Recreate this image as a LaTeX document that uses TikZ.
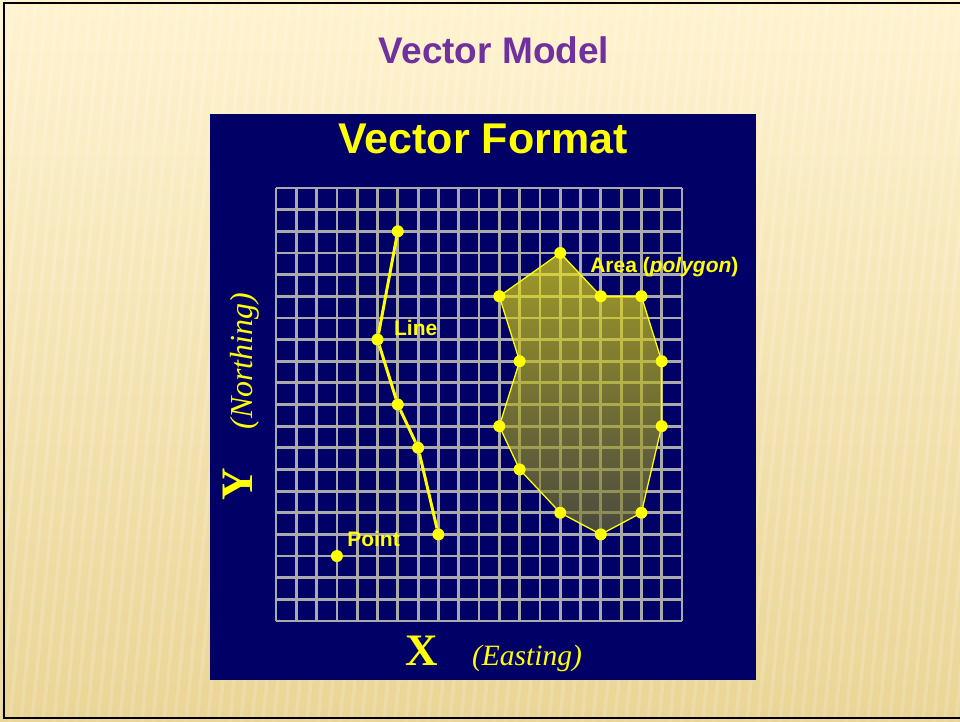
\documentclass[tikz,border=0pt]{standalone}
\usepackage{fontspec}
\setmainfont{Liberation Serif}
\setsansfont{Liberation Sans}
\definecolor{slidenavy}{RGB}{0,0,102}
\definecolor{slideyellow}{RGB}{255,255,0}
\definecolor{titlepurple}{RGB}{112,48,160}
\definecolor{gridgray}{RGB}{170,170,170}
\definecolor{creamtop}{RGB}{255,243,208}
\definecolor{creambot}{RGB}{234,213,150}
\definecolor{areatop}{RGB}{246,237,7}
\definecolor{areabot}{RGB}{114,114,44}
\usetikzlibrary{positioning}

\begin{document}
\begin{tikzpicture}[x=1pt,y=-1pt,
        lbl/.style={text=slideyellow,font=\sffamily\bfseries\fontsize{21}{24}\selectfont,
                    inner sep=0pt,anchor=base west},
        axisbig/.style={text=slideyellow,font=\rmfamily\bfseries\fontsize{45}{50}\selectfont,
                        inner sep=0pt,anchor=base},
        axissmall/.style={text=slideyellow,font=\rmfamily\itshape\fontsize{30}{34}\selectfont,
                          inner sep=0pt,anchor=base},
        dot/.style={circle,fill=slideyellow,inner sep=0pt,minimum size=12pt}]
        \useasboundingbox (0,0) rectangle (960,721);
        % slide background
        \shade[top color=creamtop,bottom color=creambot] (0,0) rectangle (960,721);
        \foreach \i in {-100,-89,...,1000}
          \draw[white,opacity=0.16,line width=3.5pt] (\i,721) -- (\i+70,0);
        \draw[black,line width=2.5pt] (4,3) rectangle (966,718);
        \node[text=titlepurple,font=\sffamily\bfseries\fontsize{37}{40}\selectfont,
              inner sep=0pt,anchor=base] (title) at (494,63) {Vector Model};
        % panel
        \fill[slidenavy] (210,114) rectangle (756,680);
        \node[text=slideyellow,font=\sffamily\bfseries\fontsize{43}{46}\selectfont,
              inner sep=0pt,anchor=base] (fmt) at (483,153) {Vector Format};
        \node[axisbig] (xl) at (422,665) {X};
        \node[axissmall,font=\rmfamily\itshape\fontsize{29.5}{34}\selectfont] (east) at (527,665) {(Easting)};
        \node[axisbig,rotate=90] (yl) at (252,484) {Y};
        \node[axissmall,rotate=90,font=\rmfamily\itshape\fontsize{32}{34}\selectfont] (north) at (252,361) {(Northing)};
        \begin{scope}[shift={(276,621)},x=20.3pt,y=21.65pt]
          \foreach \k in {0,...,20} {
            \draw[gridgray,line width=2.8pt] (\k,0) -- (\k,20);
            \draw[gridgray,line width=2.8pt] (0,\k) -- (20,\k);
          }
          \coordinate (p1) at (11,15);  \coordinate (p2) at (14,17);
          \coordinate (p3) at (16,15);  \coordinate (p4) at (18,15);
          \coordinate (p5) at (19,12);  \coordinate (p6) at (19,9);
          \coordinate (p7) at (18,5);   \coordinate (p8) at (16,4);
          \coordinate (p9) at (14,5);   \coordinate (p10) at (12,7);
          \coordinate (p11) at (11,9);  \coordinate (p12) at (12,12);
          \path[top color=areatop,bottom color=areabot,fill opacity=0.65]
            (p1) -- (p2) -- (p3) -- (p4) -- (p5) -- (p6) -- (p7) -- (p8)
            -- (p9) -- (p10) -- (p11) -- (p12) -- cycle;
          \draw[slideyellow,line width=1.3pt,line join=round]
            (p1) -- (p2) -- (p3) -- (p4) -- (p5) -- (p6) -- (p7) -- (p8)
            -- (p9) -- (p10) -- (p11) -- (p12) -- cycle;
          \foreach \p in {p1,p2,p3,p4,p5,p6,p7,p8,p9,p10,p11,p12}
            \node[dot] at (\p) {};
          \node[dot] (l1) at (6,18) {};
          \node[dot] (l2) at (5,13) {};
          \node[dot] (l3) at (6,10) {};
          \node[dot] (l4) at (7,8) {};
          \node[dot] (l5) at (8,4) {};
          \draw[slideyellow,line width=3pt] (l1) -- (l2) -- (l3) -- (l4) -- (l5);
          \node[dot] (pt) at (3,3) {};
          \node[lbl] (linelbl) at (5.81,13.21) {Line};
          \node[lbl] (ptlbl) at (3.5,3.42) {Point};
          \node[lbl] (arealbl) at (15.47,16.12) {Area (\textit{polygon})};
        \end{scope}
      \end{tikzpicture}
\end{document}
